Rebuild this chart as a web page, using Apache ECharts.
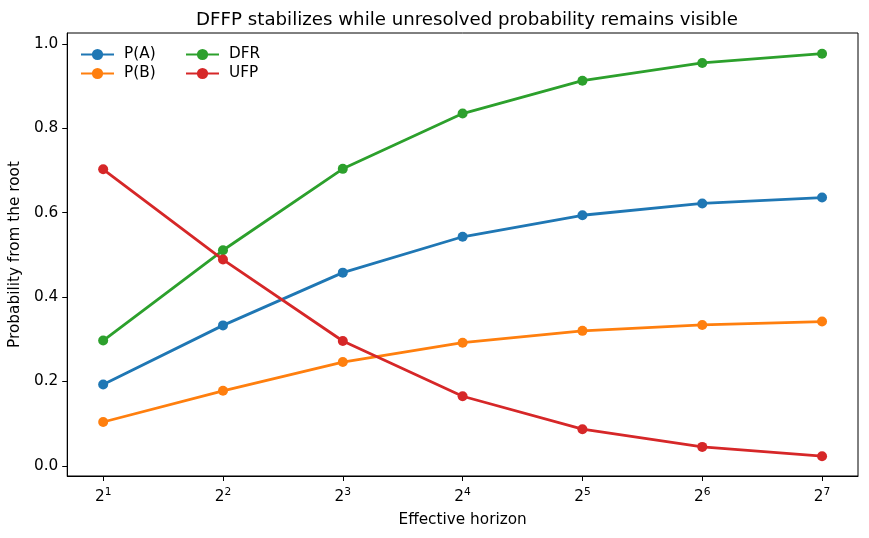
<!DOCTYPE html>
<html lang="en">
<head>
	<meta charset="UTF-8">
	<title>horizon</title>
	<style>
		html, body { margin: 0; padding: 0; background: #fff; }
	</style>
</head>
<body>
	<div id="main" style="width: 869px;height: 538px"></div>
	<script src="https://cdn.jsdelivr.net/npm/echarts@6/dist/echarts.min.js"></script>
	<script>
		// horizons are powers of two, plotted on a log2 axis
		var horizons = [2, 4, 8, 16, 32, 64, 128]
		var pA = [0.193, 0.333, 0.458, 0.543, 0.594, 0.622, 0.636]
		var pB = [0.104, 0.178, 0.246, 0.292, 0.320, 0.334, 0.342]
		var dfr = [0.297, 0.511, 0.704, 0.835, 0.913, 0.955, 0.977]
		var ufp = [0.703, 0.489, 0.296, 0.165, 0.087, 0.045, 0.023]
		var yTicks = [0, 0.2, 0.4, 0.6, 0.8, 1.0]

		var font = 'DejaVu Sans'
		var fs = 15.3

		function pts(vals) {
			return horizons.map(function (h, i) { return [Math.log2(h), vals[i]] })
		}
		function line(name, color, vals) {
			return {
				name: name,
				type: 'line',
				data: pts(vals),
				symbol: 'circle',
				symbolSize: 10,
				lineStyle: { width: 2.8, color: color },
				itemStyle: { color: color },
				emphasis: { disabled: true },
				z: 3
			}
		}
		function legend(names, left) {
			return {
				data: names,
				orient: 'vertical',
				left: left,
				top: 47,
				padding: 0,
				itemWidth: 33,
				itemHeight: 14,
				itemGap: 4,
				textStyle: { fontFamily: font, fontSize: fs, color: '#000', padding: [0, 0, 0, 5] }
			}
		}

		var myChart = echarts.init(document.getElementById('main'));
		var option = {
			animation: false,
			textStyle: { fontFamily: font },
			title: {
				text: 'DFFP stabilizes while unresolved probability remains visible',
				left: 462,
				top: 6,
				textAlign: 'center',
				textStyle: { fontFamily: font, fontSize: 18.2, fontWeight: 'normal', color: '#000' }
			},
			legend: [legend(['P(A)', 'P(B)'], 80), legend(['DFR', 'UFP'], 185)],
			grid: {
				left: 67, right: 11, top: 33, bottom: 62,
				show: true, borderColor: '#000', borderWidth: 1
			},
			xAxis: {
				type: 'value',
				min: 0.7,
				max: 7.3,
				name: 'Effective horizon',
				nameLocation: 'middle',
				nameGap: 37,
				nameTextStyle: { fontFamily: font, fontSize: fs, color: '#000' },
				axisLine: { show: true, onZero: false, lineStyle: { color: '#000' } },
				axisTick: { show: true, length: 5, customValues: [1, 2, 3, 4, 5, 6, 7], lineStyle: { color: '#000' } },
				axisLabel: {
					customValues: [1, 2, 3, 4, 5, 6, 7],
					margin: 11,
					formatter: function (v) { return '{b|2}{s|' + v + '}' },
					rich: {
						b: { fontFamily: font, fontSize: fs, color: '#000' },
						s: { fontFamily: font, fontSize: 10.7, color: '#000', padding: [0, 0, 9, 0] }
					}
				},
				splitLine: { show: false }
			},
			yAxis: {
				type: 'value',
				min: -0.024,
				max: 1.026,
				name: 'Probability from the root',
				nameLocation: 'middle',
				nameGap: 34,
				nameTextStyle: { fontFamily: font, fontSize: fs, color: '#000' },
				axisLine: { show: true, onZero: false, lineStyle: { color: '#000' } },
				axisTick: { show: true, length: 5, customValues: yTicks, lineStyle: { color: '#000' } },
				axisLabel: {
					customValues: yTicks,
					margin: 9,
					fontFamily: font, fontSize: fs, color: '#000',
					formatter: function (v) { return v.toFixed(1) }
				},
				splitLine: { show: false }
			},
			series: [
				line('P(A)', '#1f77b4', pA),
				line('P(B)', '#ff7f0e', pB),
				line('DFR', '#2ca02c', dfr),
				line('UFP', '#d62728', ufp)
			]
		};
		myChart.setOption(option);
	</script>
</body>
</html>
